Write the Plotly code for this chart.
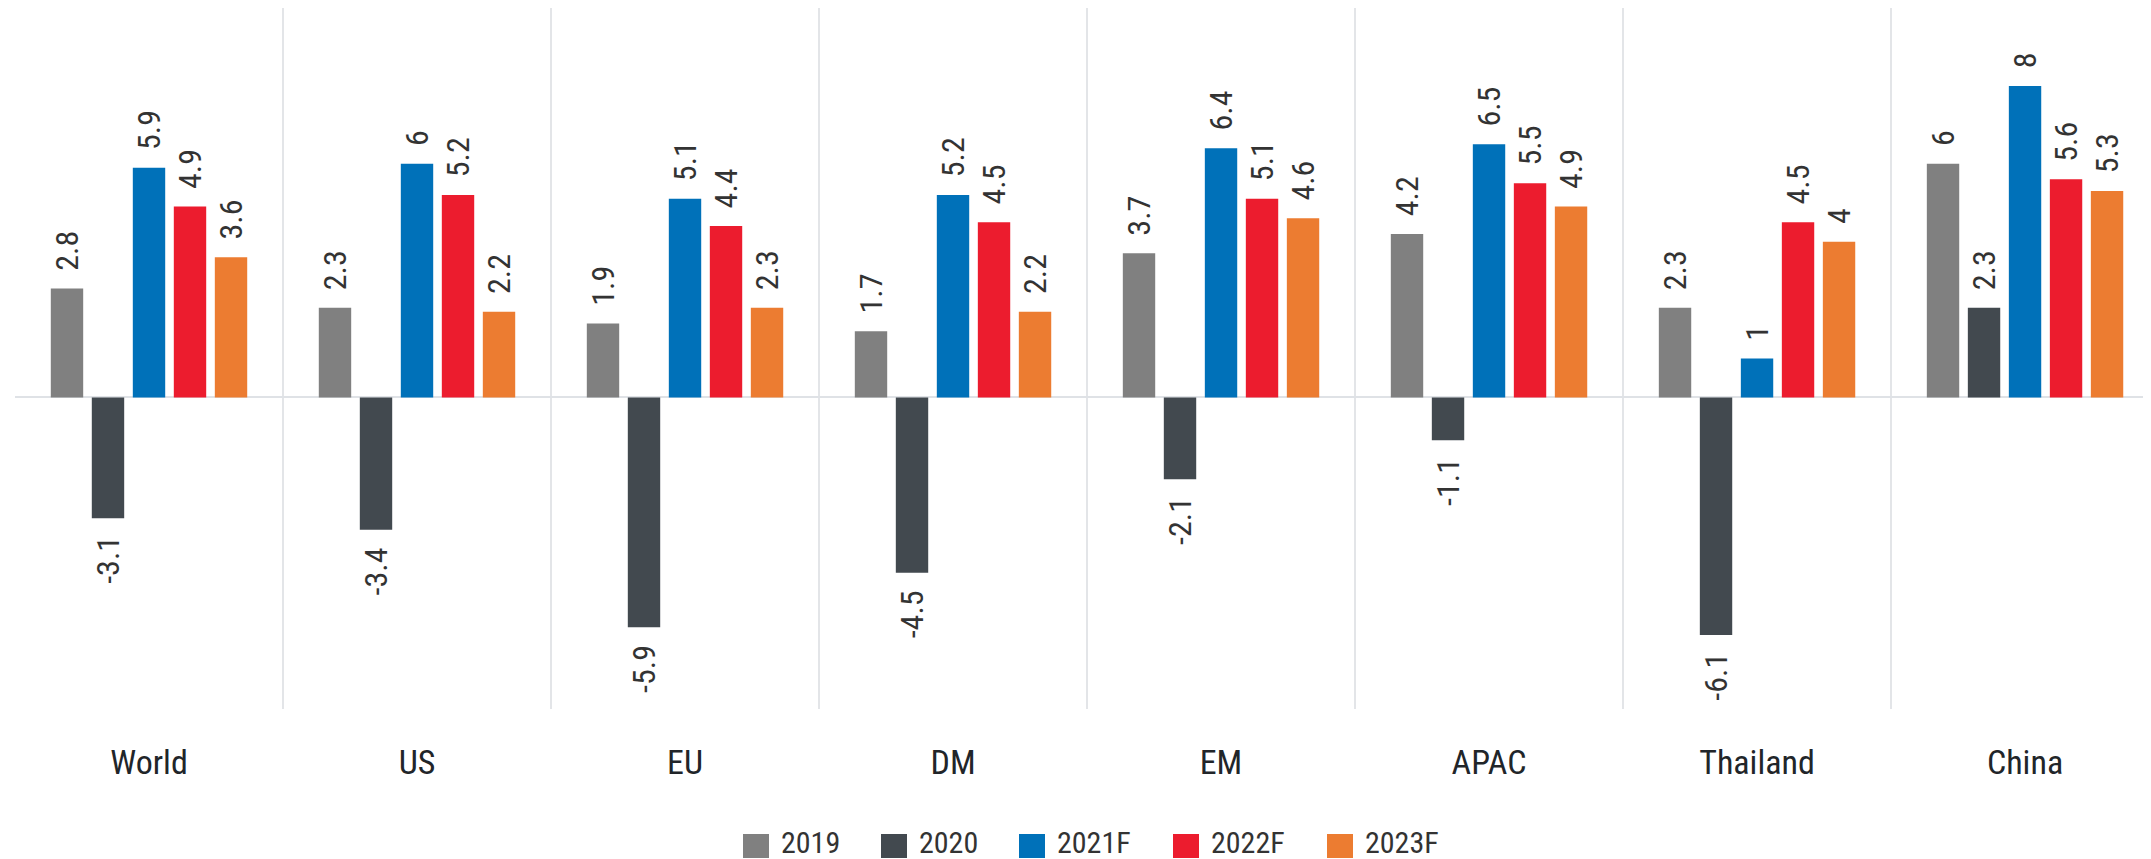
import plotly.graph_objects as go

# Catégories et séries
regions = ["World", "US", "EU", "DM", "EM", "APAC", "Thailand", "China"]
series = ["2019", "2020", "2021F", "2022F", "2023F"]

v2019 = [2.8, 2.3, 1.9, 1.7, 3.7, 4.2, 2.3, 6]
v2020 = [-3.1, -3.4, -5.9, -4.5, -2.1, -1.1, -6.1, 2.3]
v2021f = [5.9, 6, 5.1, 5.2, 6.4, 6.5, 1, 8]
v2022f = [4.9, 5.2, 4.4, 4.5, 5.1, 5.5, 4.5, 5.6]
v2023f = [3.6, 2.2, 2.3, 2.2, 4.6, 4.9, 4, 5.3]

values = [v2019, v2020, v2021f, v2022f, v2023f]
colors = ["#808080", "#42494f", "#0071b9", "#ec1c2e", "#ec7c31"]

FONT = "Roboto Condensed, Liberation Sans Narrow, DejaVu Sans Condensed, Roboto, sans-serif"

# la page html a une marge de 8px autour de la figure
OFF = 8
W, H = 2151 - OFF, 859 - OFF
ML, MR, MT, MB = 15 - OFF, 0, 0, 150
pw = W - ML - MR
ph = H - MT - MB


def label(v):
    s = f"{v:g}"
    # petit décalage entre la barre et son étiquette
    return "\u00a0\u00a0" + s if v >= 0 else s + "\u00a0\u00a0"


fig = go.Figure()
for name, vals, col in zip(series, values, colors):
    fig.add_trace(go.Bar(
        x=regions,
        y=vals,
        name=name,
        marker=dict(color=col, line=dict(width=0)),
        text=[label(v) for v in vals],
        textposition="outside",
        textangle=-90,
        constraintext="none",
        cliponaxis=False,
        textfont=dict(family=FONT, size=32, color="#333333"),
        showlegend=False,
    ))

# Légende faite à la main (carrés plus grands que ceux de Plotly)
leg_x = [743, 881, 1019, 1173, 1327]
leg_y = 846
for name, col, lx in zip(series, colors, leg_x):
    lx -= OFF
    ly = leg_y - OFF
    fig.add_shape(type="rect", xref="paper", yref="paper",
                  x0=(lx - ML) / pw, x1=(lx + 26 - ML) / pw,
                  y0=(H - MB - (ly + 12)) / ph, y1=(H - MB - (ly - 12)) / ph,
                  fillcolor=col, line=dict(width=0))
    fig.add_annotation(xref="paper", yref="paper", x=(lx + 37 - ML) / pw,
                       y=(H - MB - (ly - 4)) / ph, text=name, showarrow=False,
                       xanchor="left", yanchor="middle", borderpad=0,
                       font=dict(family=FONT, size=30, color="#333333"))

fig.update_layout(
    width=W,
    height=H,
    margin=dict(l=ML, r=MR, t=MT, b=MB),
    plot_bgcolor="white",
    paper_bgcolor="white",
    barmode="group",
    bargap=0.235,
    bargroupgap=0.21,
    showlegend=False,
    xaxis=dict(
        type="category",
        range=[-0.5, 7.47],
        tickson="boundaries",
        showgrid=True,
        gridcolor="#e3e5e8",
        gridwidth=1.5,
        ticks="",
        ticklabelstandoff=30,
        tickfont=dict(family=FONT, size=34, color="#212529"),
        showline=False,
        zeroline=False,
    ),
    yaxis=dict(
        range=[-8, 10],
        showgrid=False,
        showticklabels=False,
        zeroline=True,
        zerolinecolor="#dfe2e6",
        zerolinewidth=2,
        showline=False,
    ),
)

fig.write_html("out.html")
